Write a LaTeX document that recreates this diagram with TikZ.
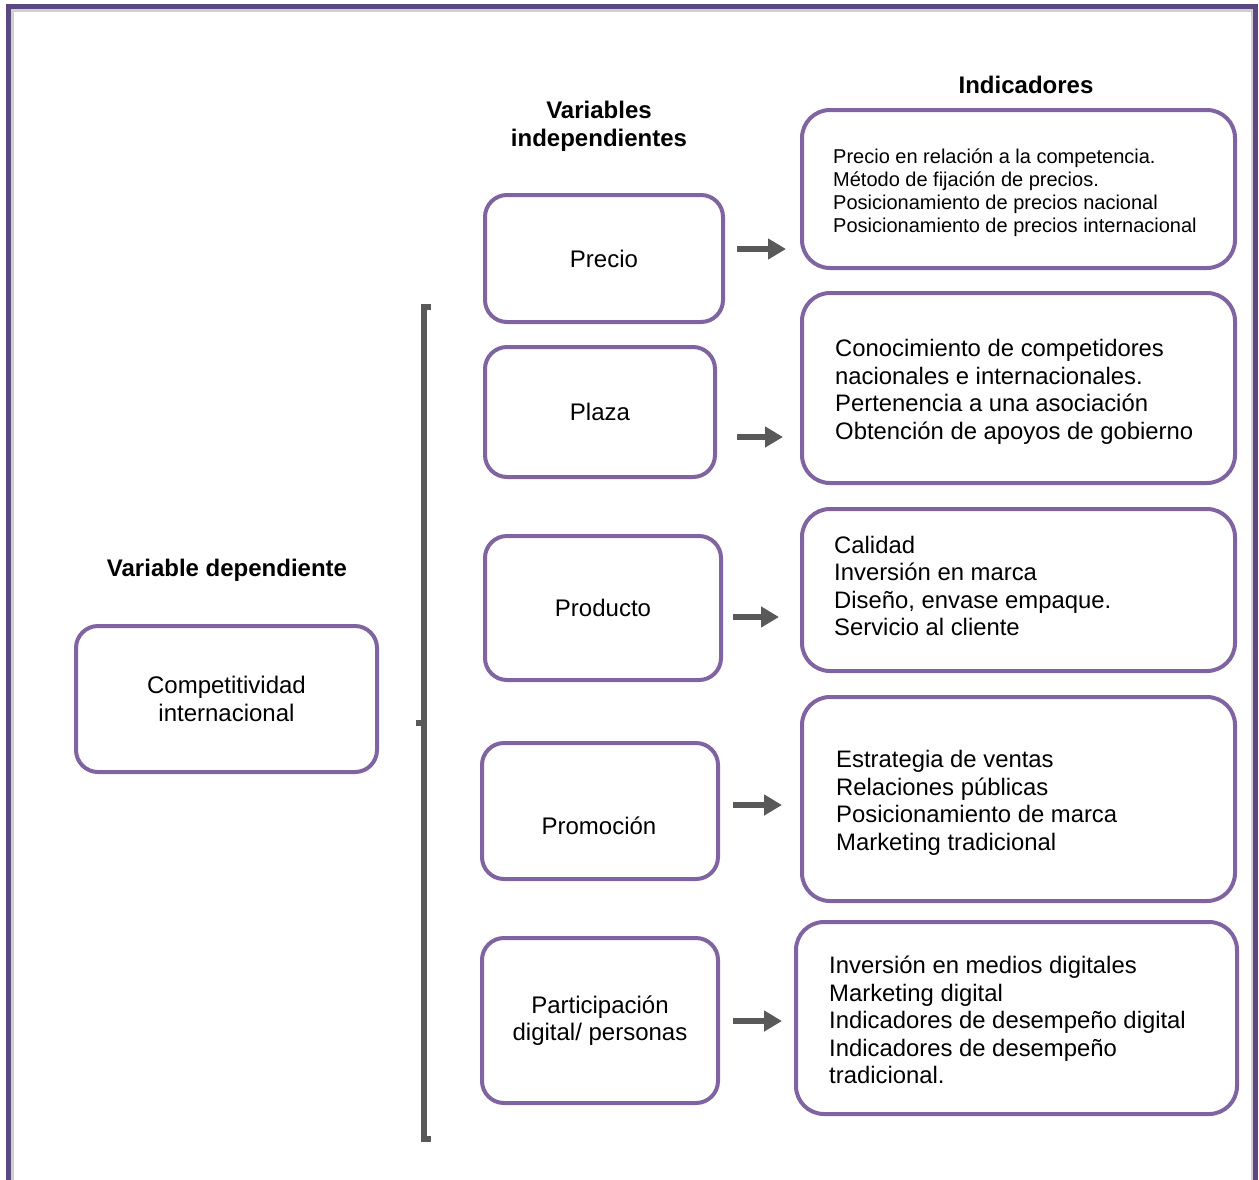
\documentclass[tikz,border=0pt]{standalone}
\usepackage{fontspec}
\setmainfont{Liberation Sans}
\usetikzlibrary{arrows.meta}
\definecolor{framepurple}{HTML}{5C4880}
\definecolor{boxpurple}{HTML}{8064A2}
\definecolor{bargray}{HTML}{595959}
\definecolor{shadowgray}{HTML}{D0D0D0}

\begin{document}
\begin{tikzpicture}[x=1pt,y=-1pt,
  every node/.style={font=\fontsize{24}{27.6}\selectfont},
  heading/.style={font=\bfseries\fontsize{24}{27.6}\selectfont, align=center, inner sep=0pt},
  ivbox/.style={draw=boxpurple, line width=4pt, rounded corners=22pt,
    align=center, inner sep=0pt},
  indbox/.style={draw=boxpurple, line width=4pt, rounded corners=28pt, inner sep=0pt},
  indtext/.style={anchor=west, align=left, inner sep=0pt,
    font=\fontsize{23.85}{27.6}\selectfont},
  arrowline/.style={draw=bargray, line width=6pt,
    -{Triangle[length=18pt,width=20pt]}},
  bracketline/.style={draw=bargray, line width=6pt},
]
\useasboundingbox (0,0) rectangle (1259,1179);

% outer frame with a soft inner shadow
\draw[shadowgray, line width=3pt] (12,10) rectangle (1252,1200);
\draw[framepurple, line width=5pt] (8.5,6) rectangle (1255.5,1200);

% headings
\node[heading] (hind) at (1026,85) {Indicadores};
\node[heading] (hvi) at (599,126) {Variables\\independientes};
\node[heading] (hvd) at (227,570) {Variable dependiente};

% dependent variable
\node[ivbox, minimum width=301, minimum height=146] (comp) at (226.5,699)
  {Competitividad\\internacional};

% independent variables
\node[ivbox, minimum width=238, minimum height=127] (precio) at (604,258.5) {Precio};
\node[ivbox, minimum width=230, minimum height=130] (plaza) at (600,412) {Plaza};
\node[ivbox, minimum width=236, minimum height=144] (producto) at (603,608) {Producto};
\node[ivbox, minimum width=236, minimum height=136] (promocion) at (600,811) {};
\node[inner sep=0pt] (promotext) at (599,826) {Promoción};
\node[ivbox, minimum width=236, minimum height=165] (particip) at (600,1020.5)
  {Participación\\digital/ personas};

% indicator boxes
\node[indbox, minimum width=433, minimum height=158] (ind1) at (1018.5,189) {};
\node[indbox, minimum width=433, minimum height=190] (ind2) at (1018.5,388) {};
\node[indbox, minimum width=433, minimum height=162] (ind3) at (1018.5,590) {};
\node[indbox, minimum width=433, minimum height=204] (ind4) at (1018.5,799) {};
\node[indbox, minimum width=441, minimum height=192] (ind5) at (1016.5,1018) {};

% indicator texts
\node[indtext, font=\fontsize{20}{23}\selectfont] (t1) at (833,192.5)
  {Precio en relación a la competencia.\\
   Método de fijación de precios.\\
   Posicionamiento de precios nacional\\
   Posicionamiento de precios internacional};
\node[indtext] (t2) at (835,392)
  {Conocimiento de competidores\\
   nacionales e internacionales.\\
   Pertenencia a una asociación\\
   Obtención de apoyos de gobierno};
\node[indtext] (t3) at (834,586)
  {Calidad\\
   Inversión en marca\\
   Diseño, envase empaque.\\
   Servicio al cliente};
\node[indtext] (t4) at (836,803)
  {Estrategia de ventas\\
   Relaciones públicas\\
   Posicionamiento de marca\\
   Marketing tradicional};
\node[indtext] (t5) at (829,1020)
  {Inversión en medios digitales\\
   Marketing digital\\
   Indicadores de desempeño digital\\
   Indicadores de desempeño\\
   tradicional.};

% arrows from each variable to its indicators
\coordinate (a1) at (0,249);
\coordinate (a2) at (0,437);
\coordinate (a3) at (0,617);
\coordinate (a4) at (0,805);
\coordinate (a5) at (0,1021);
\draw[arrowline] ([xshift=12pt]precio.east |- a1) -- ([xshift=-14pt]ind1.west |- a1);
\draw[arrowline] ([xshift=20pt]plaza.east |- a2) -- ([xshift=-17pt]ind2.west |- a2);
\draw[arrowline] ([xshift=10pt]producto.east |- a3) -- ([xshift=-21pt]ind3.west |- a3);
\draw[arrowline] ([xshift=13pt]promocion.east |- a4) -- ([xshift=-18pt]ind4.west |- a4);
\draw[arrowline] ([xshift=13pt]particip.east |- a5) -- ([xshift=-12pt]ind5.west |- a5);

% bracket grouping the independent variables
\coordinate (btop) at (424,307);
\coordinate (bbot) at (424,1139);
\coordinate (bmid) at (424,723);
\draw[bracketline] ([xshift=7pt]btop) -- (btop) -- (bbot) -- ([xshift=7pt]bbot);
\draw[bracketline] (bmid) -- ([xshift=-8pt]bmid);
\end{tikzpicture}
\end{document}
